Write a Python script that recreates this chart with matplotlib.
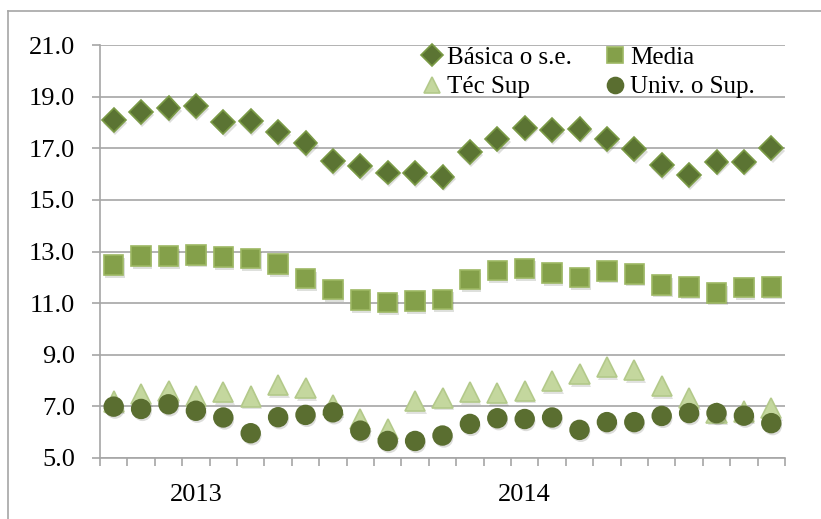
import matplotlib
matplotlib.use("Agg")
import matplotlib.pyplot as plt
import matplotlib.patheffects as pe
from matplotlib.lines import Line2D

# values (25 periods)
basica = [18.1, 18.4, 18.56, 18.64, 18.02, 18.04, 17.63, 17.19, 16.51, 16.31,
          16.06, 16.03, 15.9, 16.86, 17.35, 17.8, 17.71, 17.76, 17.35, 16.96,
          16.35, 15.96, 16.48, 16.48, 17.0]
media = [12.47, 12.82, 12.82, 12.87, 12.78, 12.73, 12.51, 11.95, 11.52, 11.12,
         11.03, 11.08, 11.15, 11.91, 12.27, 12.35, 12.16, 12.0, 12.25, 12.13,
         11.71, 11.63, 11.4, 11.61, 11.63]
tec_sup = [7.19, 7.49, 7.61, 7.41, 7.57, 7.38, 7.82, 7.71, 7.06, 6.5,
           6.13, 7.21, 7.34, 7.57, 7.51, 7.61, 7.98, 8.24, 8.53, 8.4,
           7.78, 7.34, 6.76, 6.8, 6.93]
univ = [6.99, 6.9, 7.08, 6.83, 6.57, 5.96, 6.58, 6.67, 6.77, 6.06,
        5.66, 5.66, 5.87, 6.32, 6.54, 6.51, 6.57, 6.09, 6.39, 6.39,
        6.63, 6.74, 6.74, 6.64, 6.35]
years = ["2013", "2014"]
year_pos = [3, 15]
yticks = [5, 7, 9, 11, 13, 15, 17, 19, 21]

plt.rcParams["font.family"] = ["Liberation Serif", "DejaVu Serif"]

fig = plt.figure(figsize=(8.21, 5.19), dpi=100)
ax = fig.add_axes([100 / 821, 1 - 458 / 519, 685 / 821, 413 / 519])

x = list(range(len(basica)))
shadow = [pe.SimplePatchShadow(offset=(1, -2), alpha=0.15), pe.Normal()]

series = [
    ("Básica o s.e.", basica, "D", 12.2, "#5b7433", "#7a9a45"),
    ("Media", media, "s", 14.0, "#84a04a", "#9db863"),
    ("Téc Sup", tec_sup, "^", 14.5, "#c4d79e", "#b3c98a"),
    ("Univ. o Sup.", univ, "o", 13.5, "#5a6e30", "#5a6e30"),
]
handles = {}
for name, vals, mk, ms, fc, ec in series:
    ln, = ax.plot(x, vals, linestyle="none", marker=mk, markersize=ms,
                  markerfacecolor=fc, markeredgecolor=ec, markeredgewidth=1.2,
                  label=name, zorder=3, path_effects=shadow)
    handles[name] = ln

ax.set_xlim(-0.5, len(basica) - 0.5)
ax.set_ylim(5, 21)
ax.set_yticks(yticks)
ax.set_yticklabels(["%.1f" % v for v in yticks])
ax.yaxis.grid(True, color="#a6a6a6", linewidth=1.2)
ax.set_axisbelow(True)

ax.set_xticks(year_pos)
ax.set_xticklabels(years)
ax.set_xticks([i - 0.5 for i in range(len(basica) + 1)], minor=True)
ax.tick_params(axis="x", which="major", length=0, pad=19, labelsize=19)
ax.tick_params(axis="x", which="minor", length=6, width=1.2, color="#a6a6a6")
ax.tick_params(axis="y", length=6, width=1.2, color="#a6a6a6", pad=12, labelsize=19)

for s in ["top", "right"]:
    ax.spines[s].set_visible(False)
for s in ["left", "bottom"]:
    ax.spines[s].set_color("#a6a6a6")
    ax.spines[s].set_linewidth(1.2)

order = ["Básica o s.e.", "Téc Sup", "Media", "Univ. o Sup."]
leg = fig.legend([handles[n] for n in order], order, ncol=2, frameon=False,
                 loc="upper left", bbox_to_anchor=(424 / 821, 1 - 46 / 519),
                 fontsize=18, handlelength=0.6, handletextpad=0.3,
                 columnspacing=1.45, labelspacing=0.3, borderaxespad=0,
                 borderpad=0)
for h in leg.legend_handles:
    h.set_markersize(11.5)
    h.set_path_effects([])

# thin outer frame of the chart area
fig.add_artist(Line2D([8 / 821, 8 / 821], [0, 1 - 11 / 519], color="#a6a6a6",
                      linewidth=1.2, transform=fig.transFigure))
fig.add_artist(Line2D([8 / 821, 1], [1 - 11 / 519, 1 - 11 / 519], color="#a6a6a6",
                      linewidth=1.2, transform=fig.transFigure))

fig.savefig("out.png", dpi=100)
